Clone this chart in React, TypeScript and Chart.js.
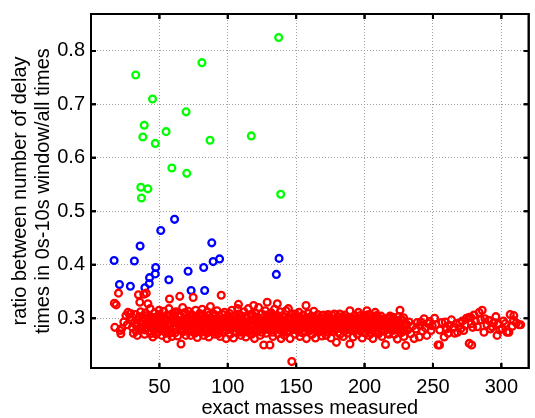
import React, { useEffect, useRef } from "react";
import { Chart, registerables } from "chart.js";

Chart.register(...registerables);

const xTicks = [50, 100, 150, 200, 250, 300];
const yTicks = [0.3, 0.4, 0.5, 0.6, 0.7, 0.8];
const xTitle = "exact masses measured";
const yTitle = ["ratio between number of delay", "times in 0s-10s window/all times"];

const greenPoints: [number, number][] = [
  [137.2, 0.825], [32.7, 0.755], [81.1, 0.778], [45, 0.71], [69.5, 0.686], [38.9, 0.661],
  [54.9, 0.649], [37.9, 0.639], [47, 0.627], [87, 0.633], [117.2, 0.641], [59.1, 0.581],
  [70, 0.571], [36.4, 0.545], [41.6, 0.542], [36.9, 0.525], [138.7, 0.532],
];

const bluePoints: [number, number][] = [
  [16.9, 0.408], [20.8, 0.363], [28.8, 0.36], [31.7, 0.407], [35.9, 0.435], [39.4, 0.357],
  [42.6, 0.365], [42.8, 0.376], [47, 0.383], [47.3, 0.395], [51, 0.464], [56.9, 0.372],
  [61.1, 0.485], [71, 0.388], [73.2, 0.352], [82.4, 0.395], [83.1, 0.352], [88.3, 0.441],
  [89.3, 0.406], [94, 0.411], [135.5, 0.382], [137.5, 0.412],
];

const redPoints: [number, number][] = [
  [17.1, 0.328], [18.4, 0.325], [20.1, 0.347], [17.4, 0.283], [21.3, 0.277], [21.8, 0.271], [22.5, 0.281],
  [25.5, 0.305], [27, 0.311], [28.5, 0.302], [29.5, 0.296], [30.2, 0.283], [31, 0.272], [31.8, 0.29],
  [32.5, 0.307], [33, 0.276], [33.8, 0.268], [34.5, 0.297], [34.7, 0.344], [35.7, 0.33], [29, 0.309],
  [26.5, 0.288], [24, 0.293],
  [36.2, 0.312], [37, 0.295], [37.8, 0.283], [38.6, 0.345], [39.2, 0.27], [40.4, 0.347], [41.6, 0.327],
  [41, 0.305], [42.5, 0.289], [43.2, 0.318], [43.8, 0.276], [44.5, 0.3], [45.2, 0.265], [45.8, 0.285],
  [46.5, 0.31], [47.2, 0.294], [47.8, 0.27], [48.5, 0.28], [49.2, 0.303], [49.8, 0.315], [43.6, 0.271],
  [50.5, 0.29], [51.2, 0.277], [51.8, 0.268], [52.5, 0.302], [53.1, 0.313], [53.8, 0.284], [54.4, 0.295],
  [55, 0.272], [55.7, 0.306], [56.3, 0.288], [57, 0.318], [57.4, 0.336], [57.8, 0.279], [58.5, 0.297],
  [59.1, 0.266], [59.7, 0.309], [55.5, 0.262],
  [60.3, 0.285], [60.9, 0.299], [61.5, 0.273], [62.2, 0.312], [62.8, 0.29], [63.4, 0.267], [64, 0.304],
  [64.9, 0.341], [65.2, 0.28], [65.8, 0.252], [66.4, 0.295], [67, 0.32], [67.6, 0.275], [68.2, 0.31],
  [68.8, 0.286], [69.4, 0.268], [69.9, 0.3],
  [70.5, 0.291], [71.1, 0.313], [71.7, 0.278], [72.3, 0.296], [72.9, 0.268], [73.5, 0.307], [74.1, 0.284],
  [74.7, 0.339], [75.3, 0.3], [75.9, 0.272], [76.5, 0.315], [77.1, 0.288], [77.7, 0.264], [78.3, 0.298],
  [78.9, 0.281], [79.5, 0.309],
  [80.1, 0.293], [80.7, 0.274], [81.3, 0.317], [81.9, 0.286], [82.5, 0.268], [83.1, 0.303], [83.7, 0.291],
  [84.3, 0.278], [84.9, 0.312], [85.5, 0.297], [86.1, 0.265], [86.7, 0.284], [87.3, 0.322], [87.9, 0.3],
  [88.5, 0.275], [89.1, 0.289], [89.7, 0.308],
  [90.3, 0.296], [90.9, 0.27], [91.5, 0.283], [92.1, 0.314], [92.7, 0.292], [93.3, 0.277], [93.9, 0.305],
  [94.5, 0.266], [95.2, 0.343], [95.8, 0.288], [96.4, 0.299], [97, 0.274], [97.6, 0.311], [98.2, 0.285],
  [98.8, 0.262], [99.4, 0.302],
  [100, 0.293], [100.6, 0.279], [101.2, 0.309], [101.8, 0.27], [102.4, 0.288], [103, 0.315], [103.6, 0.297],
  [104.2, 0.263], [104.8, 0.283], [105.4, 0.305], [106, 0.274], [106.6, 0.292], [107.2, 0.318], [107.8, 0.326],
  [108.4, 0.281], [109, 0.299], [109.6, 0.268],
  [110.2, 0.304], [110.8, 0.287], [111.4, 0.275], [112, 0.312], [112.6, 0.294], [113.2, 0.265], [113.8, 0.282],
  [114.4, 0.3], [115, 0.318], [115.6, 0.276], [116.2, 0.29], [116.8, 0.307], [117.4, 0.27], [118, 0.285],
  [118.6, 0.297], [118.9, 0.324], [119.5, 0.262],
  [120.1, 0.31], [120.7, 0.289], [121.3, 0.275], [121.9, 0.302], [122.5, 0.32], [123.1, 0.283], [123.7, 0.268],
  [124.3, 0.295], [124.9, 0.308], [125.5, 0.279], [126.3, 0.25], [126.8, 0.291], [127.4, 0.314], [128, 0.272],
  [128.8, 0.33], [129.2, 0.286], [129.8, 0.3],
  [130.4, 0.296], [130.8, 0.25], [131.2, 0.278], [131.8, 0.31], [132.4, 0.288], [133, 0.266], [133.6, 0.303],
  [134.2, 0.317], [134.8, 0.282], [135.4, 0.294], [136.2, 0.327], [136.6, 0.271], [137.2, 0.299], [137.8, 0.285],
  [138.4, 0.312], [139, 0.262], [139.6, 0.29],
  [140.2, 0.305], [140.8, 0.281], [141.4, 0.268], [142, 0.295], [142.6, 0.314], [143.2, 0.287], [143.8, 0.275],
  [144.3, 0.318], [144.9, 0.3], [145.5, 0.262], [146.1, 0.291], [146.8, 0.219], [147.3, 0.308], [147.9, 0.279],
  [148.5, 0.296], [149.1, 0.27], [149.7, 0.285],
  [150.3, 0.302], [150.9, 0.277], [151.5, 0.293], [152.1, 0.311], [152.7, 0.266], [153.3, 0.287], [153.9, 0.299],
  [154.5, 0.273], [155.1, 0.306], [155.7, 0.283], [156.3, 0.295], [157.2, 0.324], [157.5, 0.262], [158.1, 0.289],
  [158.7, 0.309], [159.3, 0.276], [159.9, 0.297],
  [160.5, 0.285], [161.1, 0.304], [161.7, 0.27], [162.3, 0.292], [162.9, 0.313], [163.5, 0.28], [164.1, 0.263],
  [164.7, 0.298], [165.3, 0.287], [165.9, 0.307], [166.5, 0.274], [167.1, 0.294], [167.7, 0.281], [168.3, 0.3],
  [168.9, 0.267], [169.5, 0.29],
  [170.1, 0.306], [170.7, 0.278], [171.3, 0.293], [171.9, 0.268], [172.5, 0.286], [173.1, 0.299], [173.7, 0.274],
  [174.5, 0.302], [174.9, 0.29], [175.5, 0.263], [176.1, 0.283], [176.7, 0.297], [177.3, 0.276], [177.9, 0.308],
  [178.5, 0.288], [179.4, 0.255], [179.7, 0.295],
  [180.3, 0.281], [180.9, 0.303], [181.9, 0.308], [182.1, 0.27], [182.7, 0.292], [183.3, 0.285], [183.9, 0.298],
  [184.5, 0.266], [185.1, 0.289], [185.7, 0.306], [186.3, 0.278], [186.9, 0.295], [187.5, 0.272], [188.1, 0.3],
  [188.7, 0.284], [189.3, 0.314], [189.3, 0.252], [189.9, 0.293],
  [190.5, 0.277], [191.1, 0.298], [191.7, 0.265], [192.3, 0.288], [192.9, 0.305], [193.5, 0.281], [194.1, 0.293],
  [194.7, 0.27], [195.5, 0.311], [195.9, 0.286], [196.5, 0.299], [197.1, 0.276], [197.7, 0.291], [198.3, 0.263],
  [198.9, 0.304], [199.5, 0.283],
  [200.1, 0.296], [200.7, 0.272], [201.7, 0.314], [201.9, 0.287], [202.5, 0.3], [203.1, 0.268], [203.7, 0.29],
  [204.3, 0.279], [204.9, 0.305], [205.5, 0.285], [206.1, 0.262], [206.7, 0.297], [207.8, 0.311], [207.9, 0.276],
  [208.5, 0.29], [209.1, 0.282], [209.7, 0.3],
  [210.3, 0.271], [210.9, 0.293], [211.5, 0.285], [212.1, 0.304], [212.7, 0.266], [213.3, 0.288], [213.9, 0.297],
  [214.5, 0.276], [215.3, 0.251], [215.7, 0.29], [216.5, 0.28], [217.1, 0.3], [217.7, 0.27], [218.3, 0.287],
  [218.9, 0.295], [219.5, 0.278],
  [220.1, 0.292], [220.7, 0.283], [221.3, 0.299], [221.9, 0.27], [222.5, 0.288], [223.1, 0.278], [224, 0.261],
  [224.5, 0.295], [225.9, 0.315], [226.1, 0.284], [226.7, 0.273], [227.6, 0.296], [228.2, 0.28], [228.8, 0.266],
  [229.4, 0.29], [230.1, 0.249],
  [231.5, 0.278], [232.5, 0.293], [233.8, 0.271], [235, 0.285], [236.2, 0.262], [237.5, 0.28], [238.5, 0.292],
  [240, 0.265], [240.5, 0.286], [241.2, 0.293], [242.3, 0.276], [243.5, 0.299], [244.5, 0.282], [245.5, 0.268],
  [246.5, 0.29], [247.5, 0.294], [248.6, 0.277], [249.5, 0.286],
  [251.2, 0.3], [252.2, 0.288], [253.7, 0.25], [254.8, 0.25], [255, 0.278], [256.5, 0.292], [258.2, 0.265],
  [259, 0.293], [260, 0.28], [261, 0.272], [262, 0.287], [263.5, 0.297], [265, 0.283], [266, 0.272],
  [267, 0.29], [268, 0.274], [269.6, 0.291], [270.5, 0.281], [271.5, 0.295], [272.5, 0.277], [273.5, 0.287],
  [274.5, 0.3], [276.5, 0.302], [277.6, 0.302], [276.5, 0.253], [278.3, 0.25], [278, 0.29], [279, 0.283],
  [280, 0.306], [281, 0.295], [282.5, 0.284], [283.8, 0.311], [285, 0.297], [286, 0.315], [287.3, 0.274],
  [288, 0.299], [289.5, 0.288], [290.9, 0.296], [292, 0.28], [293.3, 0.284], [294.5, 0.292], [296, 0.303],
  [296.9, 0.268], [297.5, 0.289], [298.8, 0.278], [300.5, 0.281], [301.5, 0.295], [302.9, 0.29], [304.1, 0.274],
  [305.5, 0.274], [306.5, 0.307], [308, 0.285], [308.9, 0.296], [309.1, 0.305], [311, 0.291], [313, 0.288],
  [314.1, 0.288],
  [36.5, 0.281], [38.2, 0.301], [40.1, 0.288], [42, 0.296], [44.1, 0.284], [46.1, 0.277], [48.1, 0.292],
  [50.1, 0.307], [52.1, 0.283], [54.1, 0.3], [56, 0.279], [58.1, 0.287], [60, 0.294], [62, 0.281],
  [63.9, 0.296], [66, 0.286], [68, 0.293], [70.2, 0.278], [72, 0.305], [73.9, 0.293], [76.1, 0.281],
  [78, 0.29], [80.4, 0.303], [82.2, 0.295], [84.1, 0.285], [86.4, 0.306], [88.2, 0.295], [90.1, 0.285],
  [92.4, 0.3], [94.2, 0.281], [96.1, 0.307], [98.5, 0.294], [100.3, 0.302], [102.1, 0.28], [104.5, 0.293],
  [106.3, 0.282], [108.1, 0.308], [110.5, 0.296], [112.3, 0.281], [114.1, 0.291], [116.5, 0.283], [118.3, 0.306],
  [120.4, 0.296], [122.2, 0.289], [124.6, 0.285], [126.5, 0.302], [128.4, 0.293], [130.1, 0.281], [132.1, 0.297],
  [134.5, 0.291], [136.3, 0.305], [138.1, 0.278], [140.5, 0.292], [142.3, 0.281], [144.6, 0.29], [146.4, 0.301],
  [148.2, 0.287], [150.6, 0.285], [152.4, 0.299], [154.2, 0.291], [156, 0.276], [158.4, 0.296], [160.2, 0.293],
  [162, 0.283], [164.4, 0.29], [166.2, 0.297], [168, 0.288], [170.4, 0.296], [172.2, 0.28], [174.2, 0.291],
  [176.4, 0.305], [178.2, 0.281], [180.6, 0.293], [182.4, 0.281], [184.2, 0.303], [186.6, 0.287], [188.4, 0.293],
  [190.2, 0.301], [192.6, 0.276], [194.4, 0.3], [196.2, 0.293], [198.6, 0.291], [200.4, 0.305], [202.2, 0.279],
  [204.6, 0.296], [206.4, 0.288], [208.2, 0.299], [210.6, 0.282], [212.4, 0.295], [214.2, 0.287], [216.2, 0.294],
  [218.6, 0.304], [220.4, 0.277], [222.2, 0.296], [224.2, 0.284], [226.4, 0.29], [228.5, 0.301], [33.5, 0.285],
  [35.2, 0.303], [39.8, 0.31], [45.5, 0.296], [49.5, 0.287], [53.5, 0.276], [57.5, 0.304], [61.2, 0.31],
  [65.5, 0.304], [69.2, 0.31], [73.2, 0.276], [77.4, 0.302], [81.6, 0.281], [85.2, 0.273], [89.4, 0.279],
  [93.6, 0.288], [97.3, 0.292], [101.5, 0.296], [105.1, 0.296], [109.3, 0.29], [113.5, 0.3], [117.1, 0.288],
  [121.6, 0.281], [125.2, 0.288], [129.5, 0.279], [133.3, 0.295], [137.5, 0.292], [141.1, 0.289], [145.2, 0.296],
  [149.4, 0.308], [153.6, 0.281], [157.8, 0.301], [161.4, 0.297], [165.6, 0.28], [169.2, 0.279], [173.4, 0.307],
  [177.6, 0.298], [181.2, 0.295], [185.4, 0.297], [189.6, 0.286], [193.2, 0.296], [197.4, 0.283], [201.3, 0.294],
  [205.2, 0.278], [209.4, 0.273], [213.6, 0.279], [217.4, 0.293], [221.6, 0.291], [225.2, 0.278], [229.7, 0.284],
  [37.3, 0.289], [39.6, 0.278], [41.3, 0.294], [43, 0.304], [44.8, 0.291], [46.8, 0.302], [48.8, 0.274],
  [50.8, 0.296], [52.8, 0.289], [54.7, 0.282], [56.6, 0.297], [58.8, 0.273], [60.6, 0.304], [62.5, 0.296],
  [64.4, 0.287], [66.8, 0.278], [68.5, 0.297], [70.8, 0.301], [72.6, 0.286], [74.4, 0.296], [76.8, 0.294],
  [78.6, 0.276], [80.9, 0.285], [82.8, 0.278], [84.6, 0.299], [86.9, 0.292], [88.8, 0.283], [90.6, 0.305],
  [92.9, 0.271], [94.9, 0.295], [96.7, 0.284], [98.9, 0.278], [100.9, 0.286], [102.7, 0.301], [104.9, 0.275],
  [106.9, 0.3], [108.7, 0.274], [110.9, 0.279], [112.9, 0.303], [114.7, 0.274], [116.9, 0.296], [118.8, 0.277],
  [120.9, 0.301], [122.9, 0.295], [124.8, 0.274], [126.9, 0.282], [128.6, 0.306], [130.9, 0.305], [132.7, 0.274],
  [134.9, 0.3], [136.9, 0.283], [138.8, 0.298], [140.9, 0.297], [142.8, 0.274], [144.8, 0.283], [146.7, 0.282],
  [148.8, 0.303], [150.8, 0.294], [152.9, 0.279], [154.8, 0.298], [156.8, 0.288], [158.9, 0.282], [160.8, 0.278],
  [162.6, 0.301], [164.9, 0.278], [166.8, 0.286], [168.6, 0.305], [170.8, 0.285], [172.8, 0.303], [174.7, 0.278],
  [176.9, 0.289], [178.8, 0.299], [180.7, 0.274], [182.9, 0.299], [184.8, 0.282], [186.8, 0.3], [188.9, 0.278],
  [190.8, 0.288], [192.8, 0.296], [194.9, 0.283], [196.8, 0.305], [198.7, 0.274], [200.9, 0.282], [202.9, 0.307],
  [204.8, 0.272], [206.9, 0.303], [208.8, 0.305], [210.8, 0.3], [212.9, 0.279], [214.8, 0.299], [216.8, 0.272],
  [218.8, 0.282], [220.8, 0.302], [222.8, 0.28], [224.8, 0.303], [226.8, 0.298], [228.6, 0.276], [230.6, 0.289],
];

const toXY = (pts: [number, number][]) => pts.map(([x, y]) => ({ x, y }));

const drawFrame = (chart: any) => {
  const ctx = chart.ctx;
  const a = chart.chartArea;
  const sx = chart.scales.x;
  const sy = chart.scales.y;
  const tl = 5;
  ctx.save();
  ctx.setLineDash([]);
  ctx.strokeStyle = "#000";
  ctx.lineWidth = 2;
  ctx.strokeRect(a.left, a.top, a.right - a.left, a.bottom - a.top);
  ctx.beginPath();
  for (const v of xTicks) {
    const px = sx.getPixelForValue(v);
    ctx.moveTo(px, a.bottom);
    ctx.lineTo(px, a.bottom - tl);
    ctx.moveTo(px, a.top);
    ctx.lineTo(px, a.top + tl);
  }
  for (const v of yTicks) {
    const py = sy.getPixelForValue(v);
    ctx.moveTo(a.left, py);
    ctx.lineTo(a.left + tl, py);
    ctx.moveTo(a.right, py);
    ctx.lineTo(a.right - tl, py);
  }
  ctx.stroke();
  ctx.restore();
};

const framePlugin = {
  id: "matlabFrame",
  beforeDatasetsDraw(chart: any) {
    drawFrame(chart);
  },
  afterDraw(chart: any) {
    drawFrame(chart);
  },
};

export default function App() {
  const ref = useRef<HTMLCanvasElement>(null);
  useEffect(() => {
    if (!ref.current) return;
    const font = "'Liberation Sans', Arial, sans-serif";
    const ds = (data: [number, number][], color: string) => ({
      data: toXY(data),
      borderColor: color,
      backgroundColor: "rgba(0,0,0,0)",
      pointRadius: 3.4,
      pointBorderWidth: 2.3,
      showLine: false,
    });
    const chart = new Chart(ref.current, {
      type: "scatter",
      data: {
        datasets: [ds(redPoints, "#ff0000"), ds(bluePoints, "#0000ff"), ds(greenPoints, "#00ff00")],
      },
      plugins: [framePlugin],
      options: {
        responsive: false,
        animation: false,
        layout: { padding: { left: 0, top: 14, right: 1, bottom: 0 } },
        plugins: { legend: { display: false } },
        scales: {
          x: {
            type: "linear",
            min: 0,
            max: 320,
            afterBuildTicks: (s: any) => {
              s.ticks = xTicks.map((v) => ({ value: v }));
            },
            afterFit: (s: any) => {
              s.height = 50;
              s.paddingLeft = 0;
              s.paddingRight = 0;
            },
            grid: { color: "#a0a0a0", lineWidth: 1, drawTicks: false },
            border: { display: false, dash: [1, 2] },
            ticks: {
              color: "#000",
              padding: 7,
              maxRotation: 0,
              font: { family: font, size: 20 },
            },
            title: {
              display: true,
              text: xTitle,
              color: "#000",
              padding: 0,
              font: { family: font, size: 20, lineHeight: 1.0 },
            },
          },
          y: {
            type: "linear",
            min: 0.207,
            max: 0.869,
            afterBuildTicks: (s: any) => {
              s.ticks = yTicks.map((v) => ({ value: v }));
            },
            afterFit: (s: any) => {
              s.width = 91;
              s.paddingTop = 0;
              s.paddingBottom = 0;
            },
            grid: { color: "#a0a0a0", lineWidth: 1, drawTicks: false },
            border: { display: false, dash: [1, 2] },
            ticks: {
              color: "#000",
              padding: 6,
              font: { family: font, size: 20 },
              callback: (v: any) => Number(v).toFixed(1),
            },
            title: {
              display: true,
              text: yTitle,
              color: "#000",
              padding: { top: 9, bottom: 0 },
              font: { family: font, size: 20, lineHeight: 1.15 },
            },
          },
        },
      },
    } as any);
    return () => chart.destroy();
  }, []);
  return (
    <div style={{ position: "absolute", left: 0, top: 0, width: 535, height: 418, background: "#fff" }}>
      <canvas ref={ref} width={535} height={418} style={{ display: "block" }} />
    </div>
  );
}
